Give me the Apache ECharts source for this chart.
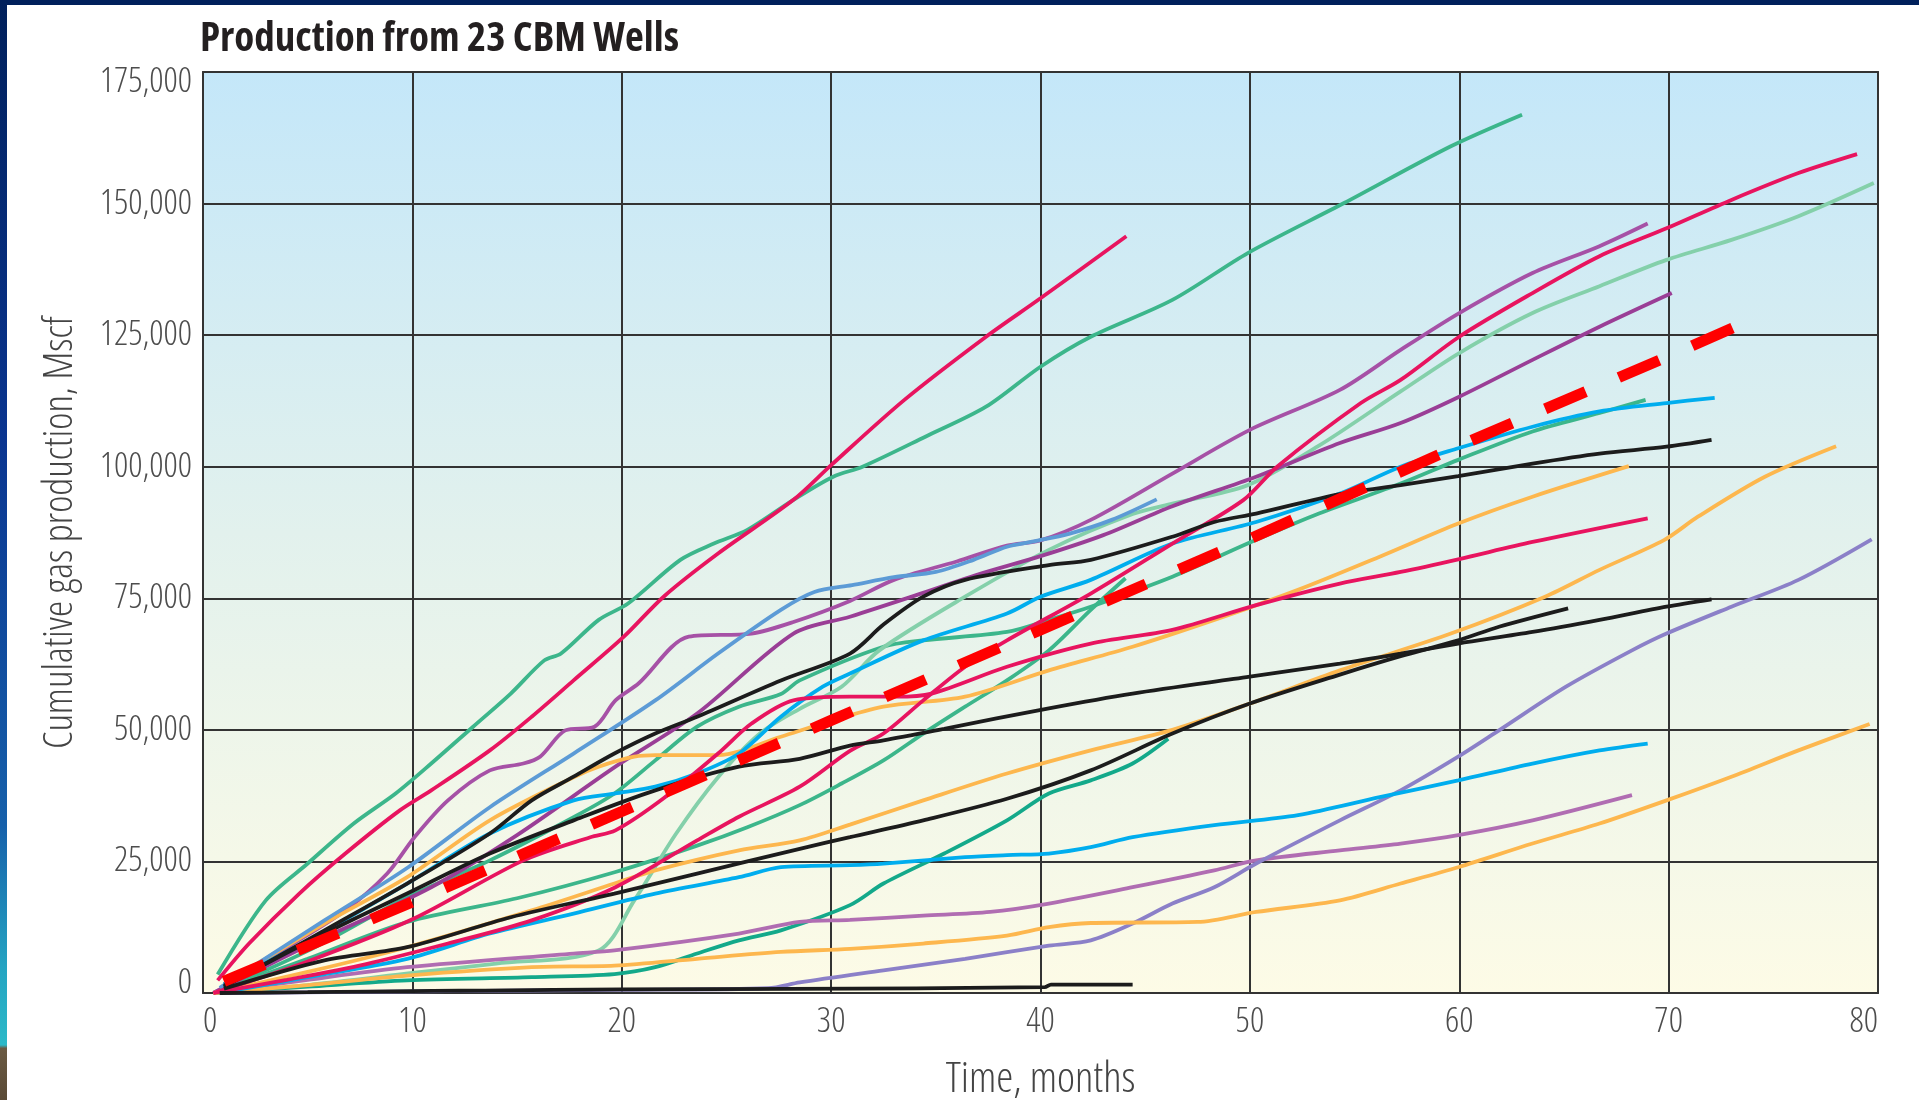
<!DOCTYPE html>
<html>
<head>
<meta charset="utf-8">
<script src="https://cdn.jsdelivr.net/npm/echarts@6/dist/echarts.min.js"></script>
<style>
html,body{margin:0;padding:0;background:#ffffff;overflow:hidden;}
#chart{position:absolute;left:0;top:0;width:1919px;height:1100px;}
#frameTop{position:absolute;left:0;top:0;width:1919px;height:5px;background:#00205b;}
#frameLeft{position:absolute;left:0;top:0;width:7px;height:1100px;
  background:linear-gradient(to bottom,#00205b 0%,#0a3590 40%,#1660aa 75%,#24a4c2 88%,#2cb9c8 95%,#6a5a43 95.3%,#5a4a36 100%);}
</style>
</head>
<body>
<div id="chart"></div>
<div id="frameTop"></div>
<div id="frameLeft"></div>
<script>
// ---- axis ranges / ticks ----
const xMin = 0, xMax = 80, xStep = 10;
const yMin = 0, yMax = 175000, yStep = 25000;

// ---- well data: [month, cumulative Mscf] ----
const wellA = [[0.7,3500],[3.0,17600],[5.0,24600],[7.2,32200],[9.2,37900],[10.9,43600],[12.9,50600],[14.7,56900],[16.3,63200],[17.1,64500],[18.9,70900],[20.3,74000],[22.8,82300],[24.4,85400],[26.0,88000],[28.2,93700],[30.1,98100],[31.5,100000],[34.5,105700],[37.4,111400],[40.0,119000],[42.4,124700],[46.3,131700],[49.9,140600],[54.5,150100],[59.6,160900],[63.0,166900]];
const wellB = [[0.7,2400],[2.2,9400],[4.6,18900],[6.8,26500],[9.4,34700],[10.9,38500],[13.7,46100],[15.7,52500],[17.7,59400],[20.1,67700],[22.0,75300],[24.6,83500],[28.2,93700],[30.0,100300],[33.5,112700],[37.4,124700],[40.0,132000],[44.1,143800]];
const wellC = [[0.5,0],[4,2500],[7.8,5500],[11.7,9400],[15.7,13800],[19.7,20100],[23.6,29000],[25.6,33500],[28.5,39200],[30.9,46000],[32.5,49300],[34.4,55600],[36.4,62000],[38.4,67000],[42.4,75900],[46.3,85400],[49.7,93700],[51.3,100000],[55.3,112100],[57.2,116500],[60,124700],[63.5,133000],[66.7,140000],[69.9,145300],[73,150700],[76.2,155800],[79,159400]];
const wellD = [[0.5,0],[5,1500],[10,3800],[14,5600],[18.9,8100],[20.6,17600],[22.6,30300],[24.6,41000],[26.6,49300],[28.5,54000],[30.5,58200],[32.3,65100],[36.4,75300],[40.4,84200],[44.4,91000],[46.3,93000],[49.9,96500],[53.3,104000],[57.2,114300],[60,121600],[63.5,129200],[66.7,134300],[69.9,139300],[73,143100],[76.2,147600],[79.8,153900]];
const wellE = [[0.5,0],[2,3500],[3.8,8100],[6.8,15700],[8.8,22700],[10.1,29600],[11.7,36600],[13.7,42300],[15.3,43600],[16.1,44900],[17.3,49900],[18.7,50600],[19.7,55600],[20.8,58800],[23.2,67700],[26.2,68300],[28.2,70500],[30.9,74500],[33,78500],[36,82000],[38.4,85000],[40,86000],[42.4,89900],[46.3,98700],[50,107000],[54.3,114600],[57.2,122200],[60,129200],[63.5,136800],[66.7,141900],[69,146200]];
const wellF = [[0.5,0],[5,9000],[10.9,20100],[15,30000],[19.7,43000],[23.6,53100],[28.2,68300],[30.9,71500],[34,75500],[37,79500],[40,83000],[43,87000],[46.3,92500],[50.3,98100],[54.3,104500],[57.2,108300],[60,113300],[63.5,120300],[66.7,126600],[70.15,133000]];
const wellG = [[0.5,0],[5,8000],[9.75,18200],[13.7,25200],[17.7,33400],[19.65,37900],[21.6,44200],[23.6,50600],[25.6,54400],[27.6,56800],[28.5,59400],[32.5,65800],[34.4,67000],[38.4,68600],[40.4,70900],[42.4,73400],[46.3,79100],[50.3,86100],[53.3,91100],[57.2,96800],[59.95,101300],[63.5,106700],[66.7,110200],[68.9,112700]];
const wellH = [[1.0,1700],[5,10000],[9.75,20800],[13.7,30300],[17.7,36600],[19.65,37900],[21.6,39200],[23.6,41700],[25.6,45500],[27.6,52500],[29.6,58200],[30.9,60700],[34.4,67000],[38.4,72100],[40,75300],[42.4,78500],[46.3,85400],[50.3,89500],[54.3,94900],[57.2,100000],[59.95,103500],[63.5,107600],[66.7,110500],[69.9,112100],[72.2,113100]];
const wellI = [[1.0,1100],[5.8,11900],[9.75,20800],[13.7,30300],[15.7,36600],[17.7,41100],[19.65,45500],[21.6,49300],[23.6,52500],[27.6,59400],[30.9,64500],[32.5,70000],[34.4,75300],[36.4,78500],[40.4,81300],[42.4,82300],[46.3,86700],[48.3,89500],[50.3,91100],[54.3,94800],[57.2,96500],[59.95,98200],[63.5,100600],[66.7,102500],[69.9,103800],[72.05,105100]];
const wellJ = [[1.0,1700],[5.8,13200],[9.75,22000],[13.7,32800],[17.7,41000],[18.9,43000],[20.6,44900],[21.6,45200],[24.6,45200],[27.6,48700],[29.6,51200],[32.5,54400],[36.4,56300],[40.4,61300],[44.4,65800],[48.3,70900],[52.3,76600],[56.2,82900],[59.95,89200],[63.5,94300],[68.1,100100]];
const wellK = [[0.5,0],[5,4000],[9.75,8700],[15.7,15700],[19.65,20800],[21.6,23300],[25.6,27100],[28.5,29000],[30.9,32000],[34.4,36600],[38.4,41700],[42.4,46100],[46.3,50000],[50,55000],[54.3,61300],[59.6,68300],[64.1,75300],[66.7,80400],[69.8,86100],[71.4,90500],[74.6,98100],[78,103900]];
const wellL = [[0.5,0],[5,6000],[10,14000],[15.3,25200],[18.5,29600],[19.7,30900],[22,37000],[24.6,45500],[26.2,51200],[28.2,55600],[30.9,56300],[33.1,56300],[34.8,56900],[38.4,62000],[42.4,66400],[46.3,69000],[50.3,73700],[54.3,77800],[57.2,80000],[59.95,82400],[63.5,85700],[69,90200]];
const wellM = [[1,0],[10,300],[20,600],[27,900],[28.5,2000],[32.5,4300],[36.4,6500],[40.4,9000],[42.4,10000],[44.4,13200],[46.3,17000],[48.3,20100],[50.3,24600],[54.3,32800],[57.2,38500],[59.95,44900],[61.9,49900],[65.1,58200],[68.25,65100],[69.9,68300],[73,73400],[76.2,78500],[79.7,86200]];
const wellN = [[1.0,800],[5.8,6200],[9.75,8700],[14.7,14400],[19.65,18900],[23.6,22700],[28.5,27400],[30.9,29600],[34.4,32800],[38.4,36900],[42.4,42300],[46.3,49300],[50,55000],[54.3,60500],[57.2,64000],[59.95,67000],[61.9,69600],[65.2,73100]];
const wellO = [[1.0,1400],[5.8,11300],[9.75,18900],[13.7,26500],[17.7,32800],[21.6,38500],[25.6,43000],[28.5,44500],[30.9,47000],[32.5,48000],[35.4,50200],[40.4,54100],[44.4,56900],[50,60100],[54.3,62600],[57.2,64500],[59.95,66400],[63.5,68600],[66.7,70900],[69.9,73400],[72.05,74800]];
const wellP = [[0.8,0],[5,3000],[9.75,6500],[13.7,11300],[17.7,15100],[21.6,18900],[25.6,22000],[27.6,23900],[30.9,24300],[32.5,24600],[36.4,25800],[38.4,26200],[40.4,26500],[42.4,27700],[44.4,29600],[48.3,31900],[52.3,33800],[56.2,37200],[59.95,40400],[63.5,43600],[66.7,46100],[69,47400]];
const wellQ = [[0.5,0],[5,2500],[9.75,4900],[17.7,7500],[19.65,8100],[25.6,11300],[28.5,13500],[30.9,13900],[34.4,14700],[37.6,15400],[40.4,17000],[44.4,20100],[48.3,23300],[50.3,25200],[54.3,27100],[57.2,28400],[59.95,30000],[63.5,32800],[68.25,37600]];
const wellR = [[0.5,0],[5,1500],[9.75,3300],[15.7,4900],[19.65,5200],[23.6,6500],[27.6,7800],[30.9,8400],[34.4,9400],[38.4,10900],[40.4,12500],[42.4,13300],[47.5,13500],[50.3,15400],[54.3,17600],[57.2,20800],[59.95,23900],[63.5,28400],[66.7,32200],[69.9,36600],[73,41100],[76.2,46100],[79.6,51100]];
const wellS = [[0.8,1000],[5.8,13800],[9.8,23900],[13.7,35300],[17.7,45500],[21.6,55600],[24.6,64500],[27.6,72800],[29.2,76200],[31,77500],[33,79000],[35,80000],[36.8,82300],[38.4,84800],[39.6,85750],[41.4,87300],[43.4,89900],[45.55,93800]];
const wellT = [[0.5,0],[5,1200],[9.75,2400],[15.7,3000],[19.65,3600],[21.6,4900],[23.6,7500],[25.6,10000],[27.6,11900],[30.9,16700],[32.5,20800],[35.4,26500],[38.4,32800],[40.4,37900],[42.4,40400],[44.4,43600],[46.1,48300]];
const wellU = [[0.8,0],[5,150],[11,400],[13.5,450],[20,700],[28,800],[40.2,1100],[40.5,1600],[44.4,1600]];
const wellX = [[0.5,0],[5,6500],[9.75,13500],[15,18000],[19.7,23000],[23.6,28000],[26,31500],[28.5,35700],[30.5,39800],[32.5,44200],[34.4,49300],[36.4,54400],[38.4,59400],[40.4,65100],[42.4,72800],[44.06,78800]];
// average trend (red dashed)
const average = [[1,2200],[10,17300],[20,34500],[30,51800],[40,69000],[50,86300],[60,104000],[70,121000],[73.6,127300]];

const wells = [
  ['Well A', wellA, '#3cb68b'], ['Well G', wellG, '#3cb68b'], ['Well X', wellX, '#3cb68b'],
  ['Well D', wellD, '#84d0aa'], ['Well T', wellT, '#13a98a'],
  ['Well E', wellE, '#a651a6'], ['Well F', wellF, '#9a3e96'], ['Well Q', wellQ, '#b06db2'],
  ['Well M', wellM, '#8b80c8'],
  ['Well J', wellJ, '#fdb74e'], ['Well K', wellK, '#fdb74e'], ['Well R', wellR, '#fdb74e'],
  ['Well S', wellS, '#5c9bd6'], ['Well H', wellH, '#00adee'], ['Well P', wellP, '#00adee'],
  ['Well B', wellB, '#e8145f'], ['Well C', wellC, '#e8145f'], ['Well L', wellL, '#e8145f'],
  ['Well I', wellI, '#1c1c1c'], ['Well N', wellN, '#1c1c1c'], ['Well O', wellO, '#1c1c1c'], ['Well U', wellU, '#1c1c1c']
];

const FONT = "'Open Sans', sans-serif";
const STRETCH = 'condensed';

const series = wells.map(([name, data, color]) => ({
  type: 'line', name: name, data: data, symbol: 'none', showSymbol: false,
  smooth: 0.3, silent: true,
  lineStyle: { color: color, width: 3.8 }, itemStyle: { color: color }, z: 2
}));
series.push({
  type: 'line', name: 'Average', data: average, symbol: 'none', showSymbol: false, silent: true,
  lineStyle: { color: '#ff0000', width: 11, type: [44, 36], cap: 'butt' }, itemStyle: { color: '#ff0000' }, z: 5
});

const chart = echarts.init(document.getElementById('chart'), null, { renderer: 'canvas' });
chart.setOption({
  animation: false,
  backgroundColor: 'transparent',
  title: {
    text: 'Production from 23 CBM Wells', left: 200, top: 19, padding: 0,
    textStyle: { fontFamily: FONT, fontStyle: STRETCH, fontWeight: 'bold', fontSize: 41, color: '#231f20' }
  },
  grid: {
    left: 203, top: 72, width: 1675, height: 921, show: true,
    containLabel: false, outerBoundsMode: 'none',
    backgroundColor: new echarts.graphic.LinearGradient(0, 0, 0, 1, [
      { offset: 0, color: '#c4e7f9' }, { offset: 0.5, color: '#e2f1ed' }, { offset: 1, color: '#fdfbe6' }
    ]),
    borderColor: '#3d3d3d', borderWidth: 2
  },
  xAxis: {
    type: 'value', min: xMin, max: xMax, interval: xStep,
    name: 'Time, months', nameLocation: 'middle', nameGap: 65, nameMoveOverlap: false,
    nameTextStyle: { fontFamily: FONT, fontStyle: STRETCH, fontWeight: 300, fontSize: 43, color: '#444444' },
    axisLine: { show: false }, axisTick: { show: false },
    axisLabel: { margin: 12, fontFamily: FONT, fontStyle: STRETCH, fontWeight: 300, fontSize: 35, color: '#4d4d4d', alignMinLabel: 'left', alignMaxLabel: 'right' },
    splitLine: { show: true, lineStyle: { color: '#333333', width: 2 } }
  },
  yAxis: {
    type: 'value', min: yMin, max: yMax, interval: yStep,
    name: 'Cumulative gas production, Mscf', nameLocation: 'middle', nameGap: 122, nameMoveOverlap: false,
    nameTextStyle: { fontFamily: FONT, fontStyle: STRETCH, fontWeight: 300, fontSize: 41, color: '#444444' },
    axisLine: { show: false }, axisTick: { show: false },
    axisLabel: {
      margin: 11, fontFamily: FONT, fontStyle: STRETCH, fontWeight: 300, fontSize: 35, color: '#4d4d4d', lineHeight: 20,
      verticalAlignMinLabel: 'bottom', verticalAlignMaxLabel: 'top',
      formatter: v => v.toLocaleString('en-US')
    },
    splitLine: { show: true, lineStyle: { color: '#333333', width: 2 } }
  },
  series: series
});
</script>
</body>
</html>
